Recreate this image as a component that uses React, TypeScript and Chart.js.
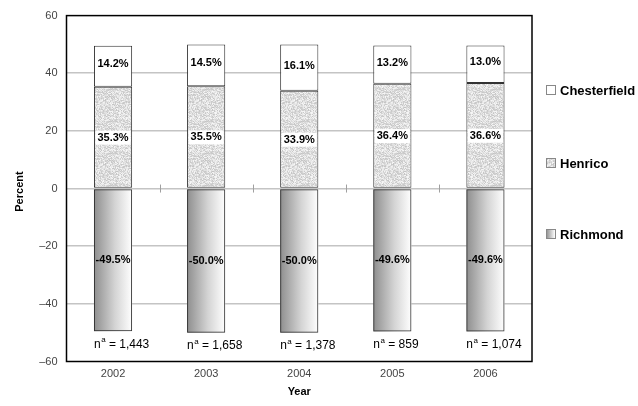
import React, { useEffect, useRef } from "react";
import { Chart, registerables } from "chart.js";

Chart.register(...registerables);

const years = ["2002", "2003", "2004", "2005", "2006"];
const richmond = [-49.5, -50.0, -50.0, -49.6, -49.6];
const henrico = [35.3, 35.5, 33.9, 36.4, 36.6];
const chesterfield = [14.2, 14.5, 16.1, 13.2, 13.0];
const sampleSizes = ["1,443", "1,658", "1,378", "859", "1,074"];
const yTicks = [-60, -40, -20, 0, 20, 40, 60];

const FONT = "'Liberation Sans', Arial, Helvetica, sans-serif";

function mix(v: number): number {
  let h = v >>> 0;
  h = Math.imul(h ^ (h >>> 16), 0x85ebca6b) >>> 0;
  h = Math.imul(h ^ (h >>> 13), 0xc2b2ae35) >>> 0;
  return (h ^ (h >>> 16)) >>> 0;
}

function makeStipple(): CanvasPattern | string {
  const n = 32;
  const c = document.createElement("canvas");
  c.width = n;
  c.height = n;
  const g = c.getContext("2d");
  if (!g) return "#dcdcdc";
  for (let y = 0; y < n; y++) {
    for (let x = 0; x < n; x++) {
      const h = mix(x * 7919 + y * 104729 + 12345);
      const v = 196 + (h % 52);
      g.fillStyle = `rgb(${v},${v},${v})`;
      g.fillRect(x, y, 1, 1);
    }
  }
  const p = g.createPattern(c, "repeat");
  return p || "#dcdcdc";
}

export default function App() {
  const ref = useRef<HTMLCanvasElement | null>(null);

  useEffect(() => {
    const canvas = ref.current;
    if (!canvas) return;
    document.body.style.margin = "0";
    const stipple = makeStipple();

    const overlay = {
      id: "overlay",
      beforeDatasetsDraw(chart: any) {
        const { ctx, scales } = chart;
        const y0 = scales.y.getPixelForValue(0);
        ctx.save();
        ctx.strokeStyle = "#a0a0a0";
        ctx.lineWidth = 1;
        for (let i = 0; i < years.length - 1; i++) {
          const a = scales.x.getPixelForValue(i);
          const b = scales.x.getPixelForValue(i + 1);
          const x = Math.round((a + b) / 2) + 0.5;
          ctx.beginPath();
          ctx.moveTo(x, y0 - 4);
          ctx.lineTo(x, y0 + 4);
          ctx.stroke();
        }
        ctx.restore();
      },
      beforeDatasetDraw(chart: any, args: any) {
        if (args.index !== 0) return;
        const { ctx } = chart;
        const meta = chart.getDatasetMeta(0);
        ctx.save();
        for (const bar of meta.data) {
          const l = bar.x - bar.width / 2;
          const r = bar.x + bar.width / 2;
          if (!isFinite(l) || !isFinite(r)) continue;
          const gr = ctx.createLinearGradient(l, 0, r, 0);
          gr.addColorStop(0, "#8e8e8e");
          gr.addColorStop(0.55, "#d4d4d4");
          gr.addColorStop(1, "#ffffff");
          ctx.fillStyle = gr;
          const t = Math.min(bar.y, bar.base);
          const h = Math.abs(bar.base - bar.y);
          ctx.fillRect(l, t, r - l, h);
        }
        ctx.restore();
      },
      afterDatasetsDraw(chart: any) {
        const { ctx, chartArea, scales } = chart;
        ctx.save();
        ctx.strokeStyle = "#000";
        ctx.lineWidth = 1.5;
        ctx.strokeRect(chartArea.left, chartArea.top, chartArea.right - chartArea.left, chartArea.bottom - chartArea.top);

        ctx.textAlign = "center";
        ctx.textBaseline = "middle";
        ctx.font = `bold 11px ${FONT}`;
        const meta = chart.getDatasetMeta(0);
        for (let i = 0; i < years.length; i++) {
          const cx = scales.x.getPixelForValue(i);
          const ry = scales.y.getPixelForValue(richmond[i] / 2);
          ctx.fillStyle = "#000";
          ctx.fillText(richmond[i].toFixed(1) + "%", cx, ry);
          const hy = scales.y.getPixelForValue(henrico[i] / 2);
          const ht = henrico[i].toFixed(1) + "%";
          const hw = ctx.measureText(ht).width;
          ctx.fillStyle = "#fff";
          ctx.fillRect(cx - hw / 2 - 2, hy - 7, hw + 4, 14);
          ctx.fillStyle = "#000";
          ctx.fillText(ht, cx, hy);
          const cy = scales.y.getPixelForValue(henrico[i] + chesterfield[i] / 2);
          ctx.fillText(chesterfield[i].toFixed(1) + "%", cx, cy - 2);

          const bar = meta.data[i];
          const left = bar.x - bar.width / 2;
          const ny = scales.y.getPixelForValue(richmond[i]) + 13;
          ctx.textAlign = "left";
          ctx.font = `12px ${FONT}`;
          ctx.fillText("n", left, ny);
          const nw = ctx.measureText("n").width;
          ctx.font = `8px ${FONT}`;
          ctx.fillText("a", left + nw + 0.5, ny - 4);
          const aw = ctx.measureText("a").width;
          ctx.font = `12px ${FONT}`;
          ctx.fillText(" = " + sampleSizes[i], left + nw + aw + 0.5, ny);
          ctx.textAlign = "center";
          ctx.font = `bold 11px ${FONT}`;
        }

        ctx.fillStyle = "#000";
        ctx.font = `bold 11px ${FONT}`;
        ctx.fillText("Year", (chartArea.left + chartArea.right) / 2, 392);
        ctx.save();
        ctx.translate(20, (chartArea.top + chartArea.bottom) / 2 + 3);
        ctx.rotate(-Math.PI / 2);
        ctx.fillText("Percent", 0, 0);
        ctx.restore();

        const items = [
          { label: "Chesterfield", y: 90, fill: "#fff" as any },
          { label: "Henrico", y: 163, fill: stipple as any },
          { label: "Richmond", y: 234, fill: null as any },
        ];
        ctx.textAlign = "left";
        ctx.font = `bold 13px ${FONT}`;
        for (const it of items) {
          const bx = 546, by = it.y - 5, bs = 9;
          if (it.fill === null) {
            const gr = ctx.createLinearGradient(bx, 0, bx + bs, 0);
            gr.addColorStop(0, "#8a8a8a");
            gr.addColorStop(1, "#ffffff");
            ctx.fillStyle = gr;
          } else {
            ctx.fillStyle = it.fill;
          }
          ctx.fillRect(bx, by, bs, bs);
          ctx.strokeStyle = "#888";
          ctx.lineWidth = 1;
          ctx.strokeRect(bx + 0.5, by + 0.5, bs, bs);
          ctx.fillStyle = "#000";
          ctx.fillText(it.label, 560, it.y + 1);
        }
        ctx.restore();
      },
    };

    const chart = new Chart(canvas, {
      type: "bar",
      data: {
        labels: years,
        datasets: [
          {
            label: "Richmond",
            data: richmond,
            backgroundColor: "rgba(0,0,0,0)",
            borderColor: "#333",
            borderWidth: 1,
            borderSkipped: false,
          },
          {
            label: "Henrico",
            data: henrico,
            backgroundColor: stipple as any,
            borderColor: "#333",
            borderWidth: 1,
            borderSkipped: false,
          },
          {
            label: "Chesterfield",
            data: chesterfield,
            backgroundColor: "#ffffff",
            borderColor: "#333",
            borderWidth: 1,
            borderSkipped: false,
          },
        ],
      },
      options: {
        animation: false,
        responsive: false,
        maintainAspectRatio: false,
        layout: { padding: { left: 0, right: 106, top: 14, bottom: 0 } },
        plugins: { legend: { display: false }, tooltip: { enabled: false } },
        datasets: { bar: { barPercentage: 0.41, categoryPercentage: 1 } },
        scales: {
          x: {
            stacked: true,
            grid: { display: false, drawTicks: false },
            border: { display: false },
            ticks: { color: "#444", font: { family: FONT, size: 11 }, padding: 6 },
            afterFit: (s: any) => { s.height = 44.5; },
          },
          y: {
            stacked: true,
            min: -60,
            max: 60,
            afterBuildTicks: (s: any) => { s.ticks = yTicks.map((v) => ({ value: v })); },
            grid: {
              color: (c: any) => (c.tick && (c.tick.value === 60 || c.tick.value === -60) ? "rgba(0,0,0,0)" : "#c4c4c4"),
              lineWidth: 1.5,
              drawTicks: false,
            },
            border: { display: false },
            ticks: {
              color: "#444",
              padding: 9,
              font: { family: FONT, size: 11 },
              callback: (v: any) => String(v).replace("-", "\u2013"),
            },
            afterFit: (s: any) => { s.width = 66.5; },
          },
        },
      },
      plugins: [overlay],
    } as any);

    return () => chart.destroy();
  }, []);

  return (
    <div style={{ position: "fixed", left: 0, top: 0, width: 638, height: 406, background: "#fff" }}>
      <canvas ref={ref} width={638} height={406} style={{ width: 638, height: 406, display: "block" }} />
    </div>
  );
}
